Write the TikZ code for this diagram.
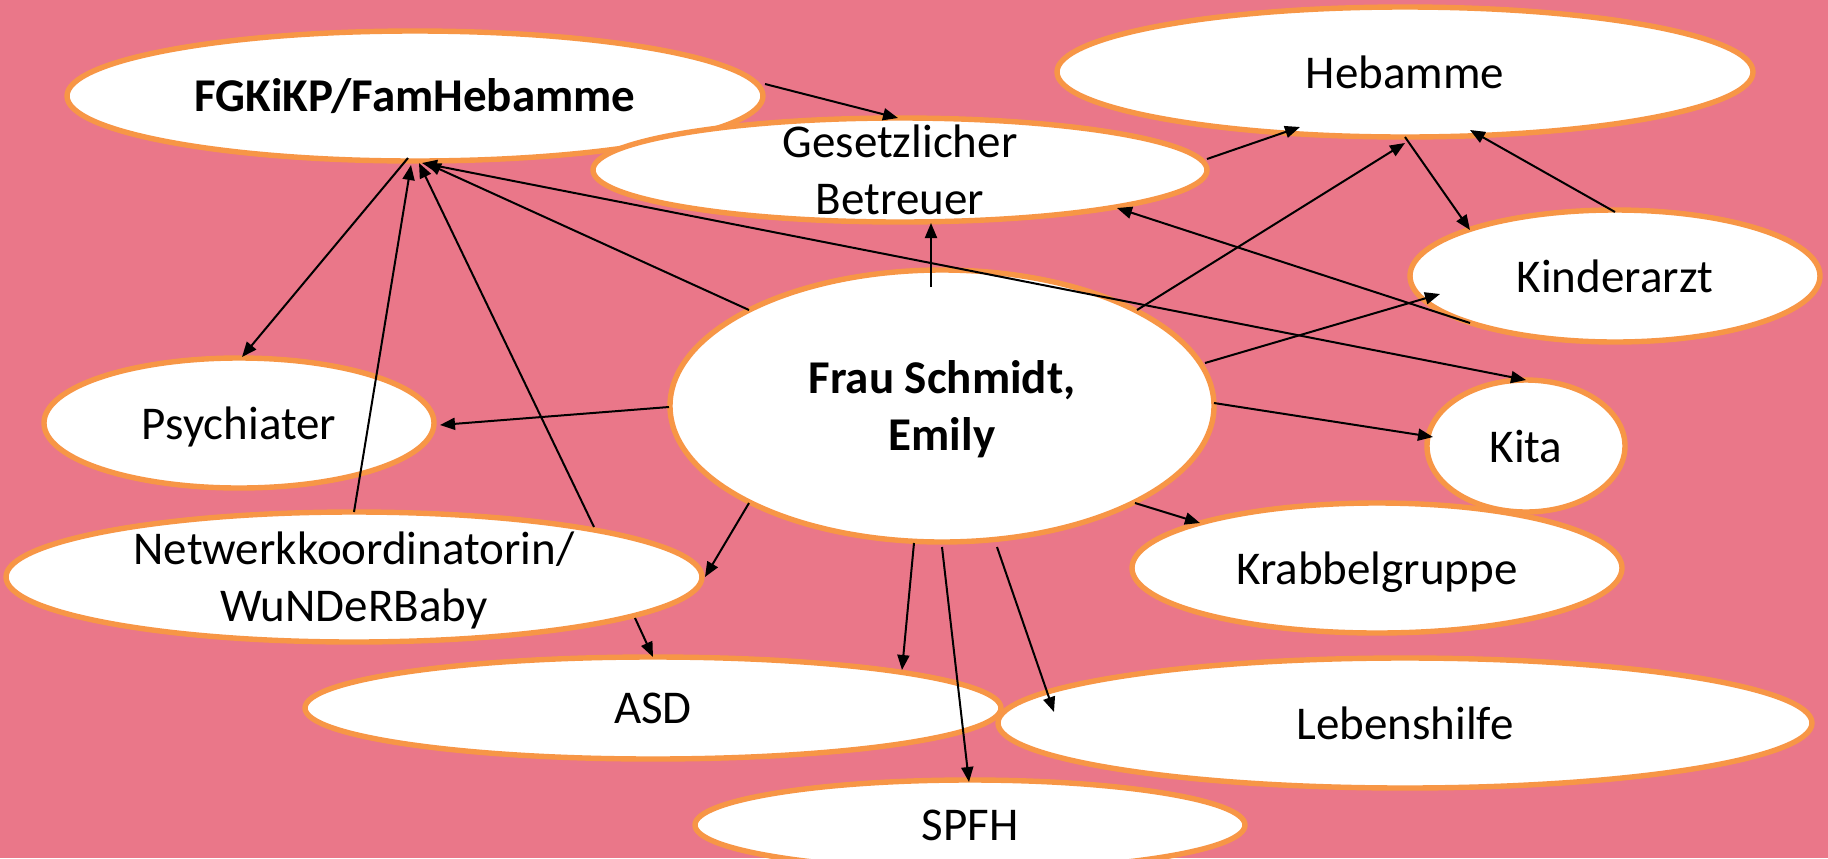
\documentclass[tikz,border=0pt]{standalone}
\usepackage{fontspec}
\setmainfont{Carlito}
\usetikzlibrary{shapes.geometric,arrows.meta}
\definecolor{bgpink}{RGB}{234,119,137}
\definecolor{rimorange}{RGB}{247,150,70}
\newcommand{\nodp}[1]{\raisebox{0pt}[\height][0pt]{#1}}
\begin{document}
\begin{tikzpicture}[x=0.5pt,y=-0.5pt,
  >={Triangle[length=7.5pt,width=6pt]},
  bubble/.style={ellipse, draw=rimorange, line width=2.7pt, fill=white,
    inner xsep=0pt, inner ysep=-14pt, outer sep=0pt, align=center, text=black,
    font=\fontsize{23.5}{28.5}\selectfont},
  link/.style={draw=black, line width=1pt, ->},
  biglink/.style={draw=black, line width=1pt, <->},
]
\useasboundingbox (0,0) rectangle (1828,858);
\clip (0,0) rectangle (1828,858);
\fill[bgpink] (0,0) rectangle (1828,858);

% nodes
\node[bubble, minimum width=348pt, minimum height=65pt, font=\fontsize{23.5}{28.5}\selectfont\bfseries] (fg) at (415,96) {FGKiKP/FamHebamme};
\node[bubble, minimum width=307pt, minimum height=52pt] (gb) at (900,170) {Gesetzlicher\\Betreuer};
\node[bubble, minimum width=348pt, minimum height=65pt] (heb) at (1405,72) {Hebamme};
\node[bubble, minimum width=205pt, minimum height=66pt] (kind) at (1615,276) {Kinderarzt};
\node[bubble, minimum width=195pt, minimum height=65pt] (psy) at (239,423) {\nodp{Psychiater}};
\node[bubble, minimum width=272pt, minimum height=136pt, font=\fontsize{23.5}{28.5}\selectfont\bfseries] (fs) at (942,406) {Frau Schmidt,\\\nodp{Emily}};
\node[bubble, minimum width=99pt, minimum height=66pt] (kita) at (1526,446) {Kita};
\node[bubble, minimum width=348pt, minimum height=65pt] (net) at (354,577) {Netwerkkoordinatorin/\\\nodp{WuNDeRBaby}};
\node[bubble, minimum width=245pt, minimum height=65pt] (krab) at (1377,568) {\nodp{Krabbelgruppe}};
\node[bubble, minimum width=348pt, minimum height=51pt] (asd) at (653,708) {ASD};
\node[bubble, minimum width=407pt, minimum height=65pt] (leb) at (1405,723) {Lebenshilfe};
\node[bubble, minimum width=275pt, minimum height=45pt] (spfh) at (970,825) {SPFH};

% connectors
\draw[link] ([shift={(350,-12)}]fg.center) -- ([shift={(-2,-52)}]gb.center);
\draw[link] ([shift={(307,-11)}]gb.center) -- ([shift={(-105,55)}]heb.center);
\draw[link] ([shift={(0,65)}]heb.center) -- ([shift={(-145,-46)}]kind.center);
\draw[link] ([shift={(0,-64)}]kind.center) -- ([shift={(65,58)}]heb.center);
\draw[link] ([shift={(-145,47)}]kind.center) -- ([shift={(217,38)}]gb.center);
\draw[link] ([shift={(-11,-119)}]fs.center) -- ([shift={(31,53)}]gb.center);
\draw[link] ([shift={(195,-96)}]fs.center) -- ([shift={(0,71)}]heb.center);
\draw[link] ([shift={(263,-43)}]fs.center) -- ([shift={(-175,18)}]kind.center);
\draw[link] ([shift={(272,-3)}]fs.center) -- ([shift={(-93,-9)}]kita.center);
\draw[biglink] ([shift={(7,67)}]fg.center) -- ([shift={(0,-66)}]kita.center);
\draw[link] ([shift={(-193,-96)}]fs.center) -- ([shift={(11,67)}]fg.center);
\draw[link] ([shift={(0,-65)}]net.center) -- ([shift={(-4,69)}]fg.center);
\draw[link] ([shift={(240,-50)}]net.center) -- ([shift={(4,67)}]fg.center);
\draw[link] ([shift={(-7,62)}]fg.center) -- ([shift={(3,-66)}]psy.center);
\draw[link] ([shift={(-273,1)}]fs.center) -- ([shift={(201,2)}]psy.center);
\draw[link] ([shift={(-193,97)}]fs.center) -- ([shift={(351,0)}]net.center);
\draw[link] ([shift={(281,41)}]net.center) -- ([shift={(0,-51)}]asd.center);
\draw[link] ([shift={(-28,137)}]fs.center) -- ([shift={(249,-38)}]asd.center);
\draw[link] ([shift={(0,141)}]fs.center) -- ([shift={(-1,-43)}]spfh.center);
\draw[link] ([shift={(55,141)}]fs.center) -- ([shift={(-351,-11)}]leb.center);
\draw[link] ([shift={(193,97)}]fs.center) -- ([shift={(-177,-45)}]krab.center);
\end{tikzpicture}
\end{document}
